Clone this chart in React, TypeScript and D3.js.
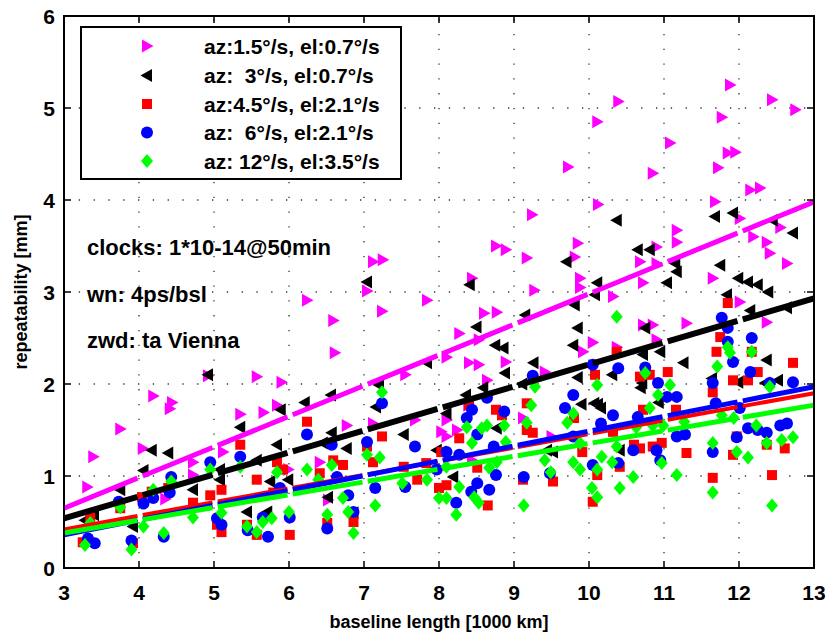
import React from 'react';
import * as d3 from 'd3';

type P = [number, number];

const MAGENTA_PTS: P[] = [
  [3.31,0.88],[3.39,1.21],[3.75,1.51],[4.05,1.30],[4.19,1.87],[4.44,1.80],[4.41,1.73],[4.35,0.75],[4.72,1.15],[4.72,1.01],
  [4.92,2.09],[5.12,1.26],[5.35,1.67],[5.57,2.08],[5.66,1.69],[5.84,1.77],[5.9,2.02],[5.99,1.07],[6.24,2.91],[6.41,1.15],
  [6.52,0.74],[6.59,2.69],[6.61,2.34],[6.77,1.55],[7.04,3.01],[7.12,3.33],[7.25,3.35],[7.24,2.79],[7.12,1.57],[7.55,2.10],
  [7.68,1.61],[7.84,2.91],[8.03,1.48],[8.1,1.43],[8.24,1.50],[8.1,1.61],[8.39,1.77],[8.44,1.17],[9.12,1.63],[9.5,1.43],
  [8.1,2.29],[8.27,2.55],[8.4,2.23],[8.44,3.15],[8.53,2.48],[8.53,2.21],[8.6,2.77],[8.64,2.04],[8.76,3.50],[8.77,2.78],
  [8.89,3.46],[8.89,2.24],[9.17,3.37],[9.24,3.84],[9.27,3.02],[9.41,2.13],[9.72,4.36],[9.85,3.53],[9.81,3.38],[9.88,3.15],
  [9.88,3.05],[9.92,2.35],[10.05,2.45],[10.11,4.85],[10.12,3.95],[10.32,2.95],[10.37,2.40],[10.39,5.07],[10.68,3.33],[10.72,3.10],
  [10.72,2.64],[10.85,2.64],[10.85,4.29],[10.9,3.49],[10.9,3.31],[10.9,2.48],[11.08,4.62],[11.17,3.67],[11.17,3.54],[11.3,2.66],
  [11.65,3.15],[11.68,3.98],[11.72,4.35],[11.77,4.90],[11.85,4.51],[11.88,5.25],[11.95,4.52],[12.01,2.89],[12.01,3.8],[12.15,4.11],
  [12.19,3.6],[12.28,4.13],[12.37,3.54],[12.37,2.67],[12.41,3.42],[12.44,5.09],[12.55,3.7],[12.64,3.31],[12.75,4.98]
];

const BLACK_PTS: P[] = [
  [3.28,0.52],[3.4,0.58],[3.75,0.85],[3.92,0.45],[4.06,1.06],[4.17,1.28],[4.39,1.25],[4.72,0.85],[4.92,2.10],[5.08,1.07],
  [5.08,0.96],[5.35,1.53],[5.44,0.61],[5.57,1.17],[5.71,0.61],[5.75,0.94],[5.84,1.34],[5.89,1.72],[5.99,0.96],[6.21,1.80],
  [6.45,1.36],[6.52,0.77],[6.57,1.47],[6.56,1.88],[6.77,1.30],[6.86,0.60],[7.04,3.11],[7.16,1.75],[7.2,1.99],[7.53,1.45],
  [7.84,2.23],[7.97,1.28],[8.03,1.26],[8.1,1.68],[8.19,0.99],[8.36,1.88],[8.41,3.08],[8.5,2.62],[8.59,1.96],[8.75,2.42],
  [8.77,1.52],[8.86,2.39],[8.88,2.12],[9.11,2.0],[9.15,2.75],[9.26,2.23],[9.44,1.28],[9.52,1.26],[9.7,3.33],[9.79,2.42],
  [9.81,2.86],[9.85,2.61],[9.85,2.07],[9.9,1.78],[10.07,1.79],[10.11,3.10],[10.08,2.97],[10.12,1.78],[10.16,1.74],[10.31,2.10],
  [10.37,3.78],[10.41,1.28],[10.65,3.46],[10.69,1.96],[10.71,2.01],[10.72,2.32],[10.75,2.61],[10.81,3.46],[10.93,1.80],[10.95,2.35],
  [11.04,3.10],[11.15,3.31],[11.17,3.22],[11.26,2.23],[11.64,2.06],[11.68,3.82],[11.75,3.29],[11.84,2.97],[11.92,3.86],[11.99,3.15],
  [11.99,2.02],[12.12,3.11],[12.15,2.8],[12.25,3.08],[12.35,2.01],[12.37,2.26],[12.39,3.0],[12.45,3.78],[12.52,2.04],[12.64,2.83],
  [12.72,3.64]
];

const RED_PTS: P[] = [
  [3.25,0.28],[3.35,0.55],[3.75,0.65],[3.92,0.27],[4.04,0.77],[4.17,0.83],[4.39,0.87],[4.72,0.71],[4.95,0.79],[5.04,0.47],
  [5.1,0.85],[5.1,0.39],[5.35,1.34],[5.44,0.47],[5.57,0.96],[5.57,0.36],[5.79,0.82],[5.84,1.15],[5.92,1.07],[6.01,0.36],
  [6.24,1.59],[6.41,1.03],[6.51,0.49],[6.59,1.17],[6.72,1.12],[6.86,0.50],[7.04,1.32],[7.12,1.15],[7.24,1.43],[7.53,1.10],
  [7.71,0.96],[7.83,1.14],[8.0,0.87],[8.1,0.90],[8.03,1.26],[8.27,1.41],[8.4,1.77],[8.51,1.09],[8.65,0.68],[8.76,1.72],
  [8.84,1.66],[9.12,0.96],[9.17,1.79],[9.17,1.50],[9.25,1.47],[9.52,0.94],[9.8,1.63],[9.91,1.26],[10.05,0.72],[10.08,2.10],
  [10.11,1.01],[10.32,1.48],[10.37,2.35],[10.41,1.10],[10.6,1.34],[10.68,2.08],[10.68,1.30],[10.72,1.72],[10.81,2.10],[10.85,1.32],
  [10.97,1.36],[11.05,2.13],[11.16,1.72],[11.3,1.25],[11.65,1.91],[11.65,0.98],[11.7,2.35],[11.75,2.51],[11.85,2.88],[11.92,2.04],
  [11.92,1.23],[11.97,1.43],[12.12,2.04],[12.17,2.35],[12.25,2.13],[12.37,1.34],[12.44,1.01],[12.61,1.30],[12.72,2.23]
];

const BLUE_PTS: P[] = [
  [3.32,0.32],[3.41,0.27],[3.73,0.72],[3.9,0.3],[4.06,0.70],[4.19,0.76],[4.33,0.34],[4.41,0.82],[4.43,0.99],[4.95,1.15],
  [5.04,0.54],[5.1,0.47],[5.35,1.21],[5.45,0.41],[5.65,0.55],[5.72,0.34],[5.88,0.87],[6.01,0.55],[6.24,1.45],[6.51,0.43],
  [6.57,1.34],[6.64,0.99],[6.79,0.79],[6.86,0.61],[7.04,1.37],[7.15,0.87],[7.24,1.79],[7.55,0.88],[7.68,1.32],[7.97,1.07],
  [8.1,1.26],[8.23,0.71],[8.27,1.23],[8.37,1.63],[8.43,0.83],[8.44,1.72],[8.51,1.45],[8.51,0.92],[8.64,1.85],[8.67,0.85],
  [8.73,1.32],[8.76,1.01],[8.87,1.70],[9.13,0.99],[9.25,2.09],[9.48,1.03],[9.68,1.74],[9.79,1.88],[9.79,1.43],[10.05,2.21],
  [10.05,1.12],[10.16,1.57],[10.32,1.66],[10.39,2.17],[10.39,1.14],[10.59,1.28],[10.65,1.64],[10.75,2.18],[10.9,1.28],[10.92,2.01],
  [10.95,1.17],[11.04,1.86],[11.17,1.86],[11.17,1.43],[11.28,1.45],[11.65,2.01],[11.65,1.26],[11.69,1.79],[11.77,2.72],[11.85,2.61],
  [11.85,2.46],[11.92,2.24],[11.97,1.42],[12.01,1.74],[12.12,1.52],[12.15,2.13],[12.17,2.5],[12.25,1.50],[12.37,1.47],[12.41,2.01],
  [12.55,1.55],[12.64,1.57],[12.72,2.02]
];

const GREEN_PTS: P[] = [
  [3.28,0.25],[3.35,0.49],[3.75,0.66],[3.9,0.2],[4.06,0.45],[4.19,0.85],[4.33,0.38],[4.43,0.94],[4.72,0.55],[4.95,1.07],
  [5.1,0.60],[5.35,1.10],[5.44,0.45],[5.57,0.39],[5.65,0.50],[5.77,0.54],[5.84,1.04],[6.0,0.61],[6.24,1.07],[6.39,0.96],
  [6.51,0.58],[6.57,1.12],[6.72,0.76],[6.79,0.61],[6.86,0.38],[7.04,1.23],[7.15,0.68],[7.21,1.20],[7.24,1.91],[7.51,0.92],
  [7.84,0.96],[8.0,0.76],[8.1,0.76],[8.1,1.10],[8.23,0.58],[8.27,0.88],[8.37,1.53],[8.44,1.36],[8.47,0.77],[8.53,0.71],
  [8.57,1.52],[8.64,1.55],[8.67,1.09],[8.77,1.15],[8.87,1.55],[8.89,1.37],[9.13,0.68],[9.17,1.58],[9.23,1.77],[9.28,1.97],
  [9.41,1.17],[9.49,1.04],[9.71,1.58],[9.79,1.68],[9.79,1.15],[9.88,1.07],[9.88,1.36],[10.04,0.87],[10.11,1.99],[10.11,1.07],
  [10.11,0.77],[10.17,1.21],[10.31,1.15],[10.37,1.32],[10.37,2.73],[10.41,0.87],[10.59,0.99],[10.63,1.53],[10.75,2.12],[10.81,1.74],
  [10.85,1.55],[10.92,1.88],[10.97,1.14],[10.99,1.55],[11.08,1.99],[11.17,1.01],[11.27,1.59],[11.65,1.36],[11.65,0.82],[11.71,2.19],
  [11.77,1.66],[11.85,2.40],[11.88,2.34],[11.93,1.63],[11.97,1.26],[12.12,1.20],[12.17,2.35],[12.23,1.55],[12.37,1.36],[12.41,1.97],
  [12.44,0.68],[12.57,1.39],[12.72,1.42]
];

const SERIES_LABELS = [
  'az:1.5\u00b0/s, el:0.7\u00b0/s',
  'az:  3\u00b0/s, el:0.7\u00b0/s',
  'az:4.5\u00b0/s, el:2.1\u00b0/s',
  'az:  6\u00b0/s, el:2.1\u00b0/s',
  'az: 12\u00b0/s, el:3.5\u00b0/s',
];

// regression lines: value at x = 3 and x = 13
const FIT_X: [number, number] = [3, 13];
const FIT_MAGENTA = [0.65, 3.98];
const FIT_BLACK = [0.54, 2.93];
const FIT_RED = [0.42, 1.9];
const FIT_BLUE = [0.36, 1.97];
const FIT_GREEN = [0.38, 1.77];

const ANNOTATIONS = ['clocks: 1*10-14@50min', 'wn: 4ps/bsl', 'zwd: ta Vienna'];
const X_TICKS = [3, 4, 5, 6, 7, 8, 9, 10, 11, 12, 13];
const Y_TICKS = [0, 1, 2, 3, 4, 5, 6];
const X_LABEL = 'baseline length [1000 km]';
const Y_LABEL = 'repeatability [mm]';

const FONT = '"Liberation Sans", Arial, Helvetica, sans-serif';

type Shape = 'triR' | 'triL' | 'square' | 'circle' | 'diamond';

function markerPath(shape: Shape, cx: number, cy: number): string {
  switch (shape) {
    case 'triR':
      return `M${cx - 5},${cy - 6.5}L${cx + 6.5},${cy}L${cx - 5},${cy + 6.5}Z`;
    case 'triL':
      return `M${cx + 5},${cy - 6.5}L${cx - 6.5},${cy}L${cx + 5},${cy + 6.5}Z`;
    case 'square':
      return `M${cx - 5},${cy - 5}h10v10h-10Z`;
    case 'diamond':
      return `M${cx},${cy - 7}L${cx + 6},${cy}L${cx},${cy + 7}L${cx - 6},${cy}Z`;
    default:
      return '';
  }
}

function Marker({ shape, cx, cy, color }: { shape: Shape; cx: number; cy: number; color: string }) {
  if (shape === 'circle') {
    return <circle cx={cx} cy={cy} r={6} fill={color} />;
  }
  return <path d={markerPath(shape, cx, cy)} fill={color} />;
}

export default function App() {
  const W = 830;
  const H = 637;
  const x = d3.scaleLinear().domain([3, 13]).range([64, 814]);
  const y = d3.scaleLinear().domain([0, 6]).range([568, 16]);
  const [x0, x1] = x.range();
  const [yb, yt] = y.range();

  const series: { pts: P[]; color: string; shape: Shape }[] = [
    { pts: MAGENTA_PTS, color: '#ff00ff', shape: 'triR' },
    { pts: BLACK_PTS, color: '#000000', shape: 'triL' },
    { pts: RED_PTS, color: '#ff0000', shape: 'square' },
    { pts: BLUE_PTS, color: '#0000ff', shape: 'circle' },
    { pts: GREEN_PTS, color: '#00ff00', shape: 'diamond' },
  ];

  const fits = [
    { v: FIT_RED, color: '#ff0000', w: 4 },
    { v: FIT_BLUE, color: '#0000ff', w: 5 },
    { v: FIT_GREEN, color: '#00ff00', w: 5 },
    { v: FIT_BLACK, color: '#000000', w: 6 },
    { v: FIT_MAGENTA, color: '#ff00ff', w: 5 },
  ];

  const line = d3.line<P>().x((d) => x(d[0])).y((d) => y(d[1]));

  const fitSegments = (v: number[]) => {
    const f = (xx: number) => v[0] + ((v[1] - v[0]) * (xx - FIT_X[0])) / (FIT_X[1] - FIT_X[0]);
    const segs: P[][] = [];
    for (let k = FIT_X[0]; k < FIT_X[1]; k++) {
      const a = k === FIT_X[0] ? k : k + 0.05;
      const b = k + 1 === FIT_X[1] ? k + 1 : k + 1 - 0.02;
      segs.push([[a, f(a)], [b, f(b)]]);
    }
    return segs;
  };

  const legendRowsY = [46, 75.5, 104, 132.5, 161];

  return (
    <svg
      width={W}
      height={H}
      style={{ position: 'absolute', left: 0, top: 0, background: '#fff' }}
      fontFamily={FONT}
    >
      <rect x={0} y={0} width={W} height={H} fill="#fff" />
      {/* grid */}
      <g stroke="#333" strokeWidth={1.3} strokeDasharray="1.3 13.5">
        {X_TICKS.slice(1, -1).map((t) => (
          <line key={'gx' + t} x1={x(t)} x2={x(t)} y1={yb} y2={yt} />
        ))}
        {Y_TICKS.slice(1, -1).map((t) => (
          <line key={'gy' + t} x1={x0} x2={x1} y1={y(t)} y2={y(t)} />
        ))}
      </g>

      {/* markers */}
      {series.map((s, i) => (
        <g key={'s' + i}>
          {s.pts.map((p, j) => (
            <Marker key={j} shape={s.shape} cx={x(p[0])} cy={y(p[1])} color={s.color} />
          ))}
        </g>
      ))}

      {/* regression lines */}
      {fits.map((f, i) => (
        <g key={'f' + i}>
          {fitSegments(f.v).map((seg, j) => (
            <path key={j} d={line(seg)!} stroke={f.color} strokeWidth={f.w} fill="none" />
          ))}
        </g>
      ))}

      {/* axes box and ticks */}
      <rect x={x0} y={yt} width={x1 - x0} height={yb - yt} fill="none" stroke="#000" strokeWidth={2} />
      <g stroke="#000" strokeWidth={1.5}>
        {X_TICKS.slice(1, -1).map((t) => (
          <g key={'tx' + t}>
            <line x1={x(t)} x2={x(t)} y1={yb} y2={yb - 7} />
            <line x1={x(t)} x2={x(t)} y1={yt} y2={yt + 7} />
          </g>
        ))}
        {Y_TICKS.slice(1, -1).map((t) => (
          <g key={'ty' + t}>
            <line x1={x0} x2={x0 + 7} y1={y(t)} y2={y(t)} />
            <line x1={x1} x2={x1 - 7} y1={y(t)} y2={y(t)} />
          </g>
        ))}
      </g>
      <g fontSize={21} fontWeight="bold" fill="#000">
        {X_TICKS.map((t) => (
          <text key={'lx' + t} x={x(t)} y={600} textAnchor="middle">
            {t}
          </text>
        ))}
        {Y_TICKS.map((t) => (
          <text key={'ly' + t} x={55} y={y(t) + 7.5} textAnchor="end">
            {t}
          </text>
        ))}
      </g>
      <text x={(x0 + x1) / 2} y={628} textAnchor="middle" fontSize={18} fontWeight="bold">
        {X_LABEL}
      </text>
      <text
        transform={`translate(27, ${(yb + yt) / 2}) rotate(-90)`}
        textAnchor="middle"
        fontSize={18}
        fontWeight="bold"
      >
        {Y_LABEL}
      </text>

      {/* annotations */}
      <g fontSize={22} fontWeight="bold">
        {ANNOTATIONS.map((a, i) => (
          <text key={'a' + i} x={87} y={255 + i * 46.5}>
            {a}
          </text>
        ))}
      </g>

      {/* legend */}
      <rect x={81} y={27} width={320} height={152} fill="#fff" stroke="#000" strokeWidth={2} />
      {series.map((s, i) => (
        <g key={'lg' + i}>
          <Marker shape={s.shape} cx={147} cy={legendRowsY[i]} color={s.color} />
          <text x={204} y={legendRowsY[i] + 7.5} fontSize={21} fontWeight="bold" style={{ whiteSpace: 'pre' }}>
            {SERIES_LABELS[i]}
          </text>
        </g>
      ))}
    </svg>
  );
}
